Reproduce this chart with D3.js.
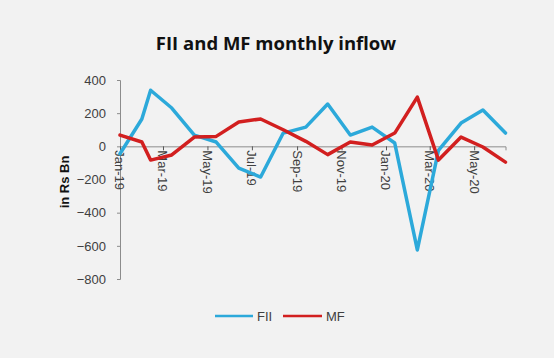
<!DOCTYPE html>
<html>
<head>
<meta charset="utf-8">
<script src="https://cdn.jsdelivr.net/npm/d3@7"></script>
<style>
  html, body { margin: 0; padding: 0; background: #f2f2f2; }
  svg { display: block; }
</style>
</head>
<body>
<svg id="chart" width="554" height="358"></svg>
<script>
// ---- data ----
const dates = ["2019-01-01","2019-01-31","2019-02-12","2019-03-13","2019-04-13","2019-05-13","2019-06-13",
  "2019-07-13","2019-08-13","2019-09-13","2019-10-13","2019-11-13","2019-12-13","2020-01-13",
  "2020-02-13","2020-03-13","2020-04-13","2020-05-13","2020-06-13"];
const fii = [-45, 165, 338, 231, 68, 26, -131, -185, 80, 116, 255, 68, 116, 20, -625, -25, 140, 219, 80];
const mf  = [68, 26, -83, -52, 56, 60, 147, 165, 100, 30, -50, 26, 8, 80, 297, -83, 56, -4, -95];
const yTicks = [-800, -600, -400, -200, 0, 200, 400];
const xTickDates = ["2019-01-01","2019-03-01","2019-05-01","2019-07-01","2019-09-01","2019-11-01","2020-01-01","2020-03-01","2020-05-01"];
const seriesNames = ["FII", "MF"];
const colors = ["#2ca9da", "#d21f1f"];

// ---- chart ----
const parse = d3.utcParse("%Y-%m-%d");
const fmt = d3.utcFormat("%b-%y");
const svg = d3.select("#chart");

const x = d3.scaleUtc()
  .domain([parse(dates[0]), parse(dates[dates.length - 1])])
  .range([120, 505.5]);
const y = d3.scaleLinear().domain([-800, 400]).range([279, 80]);

const axisColor = "#8c8c8c";
const textColor = "#404040";

// title
svg.append("text")
  .attr("x", 276).attr("y", 50)
  .attr("text-anchor", "middle")
  .style("font-family", "'Open Sans', Lato, sans-serif")
  .style("font-weight", "bold")
  .style("font-size", "18.5px")
  .style("fill", "#111")
  .text("FII and MF monthly inflow");

// y axis
const yAxis = d3.axisLeft(y).tickValues(yTicks).tickSize(3).tickPadding(11).tickFormat(d3.format("d"));
const gy = svg.append("g").attr("transform", "translate(120,0)").call(yAxis);
gy.select(".domain").attr("stroke", axisColor);
gy.selectAll(".tick line").attr("stroke", axisColor);
gy.selectAll(".tick text")
  .style("font-family", "'Liberation Sans', Arial, sans-serif")
  .style("font-size", "13px")
  .style("fill", textColor);

// y label
svg.append("text")
  .attr("transform", "translate(69,182) rotate(-90)")
  .attr("text-anchor", "middle")
  .style("font-family", "'Liberation Sans', Arial, sans-serif")
  .style("font-weight", "bold")
  .style("font-size", "13px")
  .style("fill", "#111")
  .text("in Rs Bn");

// x axis at zero
const xAxis = d3.axisBottom(x).tickValues(xTickDates.map(parse)).tickSize(4).tickFormat(() => "");
const gx = svg.append("g").attr("transform", `translate(0,${y(0)})`).call(xAxis);
gx.select(".domain").attr("stroke", axisColor);
gx.selectAll(".tick line").attr("stroke", "#555");

// rotated x labels
svg.append("g").selectAll("text")
  .data(xTickDates)
  .join("text")
  .attr("transform", d => `translate(${x(parse(d))},${y(0) + 4}) rotate(90)`)
  .attr("dy", "0.35em")
  .attr("text-anchor", "start")
  .style("font-family", "'Liberation Sans', Arial, sans-serif")
  .style("font-size", "13px")
  .style("fill", textColor)
  .text(d => fmt(parse(d)));

// lines
const line = d3.line().x(d => x(d.date)).y(d => y(d.v));
const series = [fii, mf].map((vals, i) => ({
  name: seriesNames[i],
  color: colors[i],
  pts: vals.map((v, j) => ({ date: parse(dates[j]), v }))
}));

svg.append("g").selectAll("path")
  .data(series)
  .join("path")
  .attr("d", s => line(s.pts))
  .attr("fill", "none")
  .attr("stroke", s => s.color)
  .attr("stroke-width", 3.5)
  .attr("stroke-linejoin", "round")
  .attr("stroke-linecap", "round");

// legend
const legend = [
  { x1: 215, x2: 253, tx: 257 },
  { x1: 283, x2: 322, tx: 326 }
];
const lg = svg.append("g");
series.forEach((s, i) => {
  lg.append("line")
    .attr("x1", legend[i].x1).attr("x2", legend[i].x2)
    .attr("y1", 316).attr("y2", 316)
    .attr("stroke", s.color).attr("stroke-width", 2.5);
  lg.append("text")
    .attr("x", legend[i].tx).attr("y", 316)
    .attr("dy", "0.35em")
    .style("font-family", "'Liberation Sans', Arial, sans-serif")
    .style("font-size", "13px")
    .style("fill", textColor)
    .text(s.name);
});
</script>
</body>
</html>
